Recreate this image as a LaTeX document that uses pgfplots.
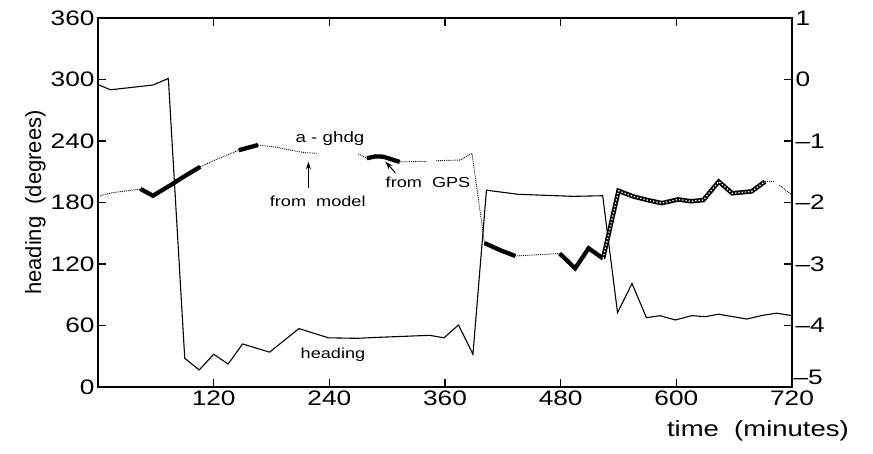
\documentclass[border=0pt]{standalone}
\usepackage{pgfplots}
\pgfplotsset{compat=1.18}
\usepackage{fontspec}
\setmainfont{Liberation Sans}[FakeStretch=1.25]
\newfontfamily\rotfont{Liberation Sans}
\usetikzlibrary{arrows.meta}
\begin{document}
\begin{tikzpicture}
\useasboundingbox (-98pt,-66pt) rectangle (775pt,387pt);
\pgfplotsset{
  every axis/.append style={
    scale only axis, width=694pt, height=369pt,
    xmin=0, xmax=720,
    tick align=inside,
    axis line style={line width=1.1pt},
    major tick length=8pt,
    every tick/.style={line width=1.1pt, black},
    tick label style={font=\fontsize{21}{24}\selectfont},
    label style={font=\fontsize{22}{26}\selectfont},
    /pgf/number format/assume math mode=true,
  }
}
\begin{axis}[
  ymin=0, ymax=360,
  xtick={120,240,...,720}, ytick={0,60,...,360},
  xtick pos=both, xticklabel pos=lower,
  ytick pos=left,
  ylabel={\rotfont heading\ \ (degrees)},
  ylabel style={yshift=-2pt},
  xlabel={time\ \ (minutes)},
  xlabel style={at={(axis description cs:1.087,-0.12)}, anchor=east},
]
\addplot[black, line width=1.1pt] coordinates {
(0,295) (13,290) (57,294.6) (73,301) (90,28) (105,16.6) (120,32) (135,22.4)
(150,42) (178,34) (208.5,57) (239,48) (268,47.5) (292,48.5) (344,50.4)
(359,48) (374,60.5) (389,32) (403,192) (436,188) (493,186) (523.6,186.6)
(539,72.5) (554,101) (569,67.6) (583,69.6) (599,65.4) (616,69.6) (630,68.6)
(643.6,71) (659,68.6) (673,66.3) (690,70) (704,72) (720,69.6)
};
\node[font=\fontsize{15}{17}\selectfont] at (axis cs:240.7,242) {a - ghdg};
\node[font=\fontsize{14.5}{17}\selectfont] at (axis cs:228,181.5) {from\ \ model};
\node[font=\fontsize{14.5}{17}\selectfont] at (axis cs:342.4,200) {from\ \ GPS};
\node[font=\fontsize{14.5}{17}\selectfont] at (axis cs:243.8,31.5) {heading};
\draw[-{Stealth[length=8pt,width=5pt]}, line width=1pt] (axis cs:218.3,194) -- (axis cs:218.3,220);
\draw[-{Stealth[length=8pt,width=5pt]}, line width=1pt] (axis cs:308.5,209) -- (axis cs:298,220);
\end{axis}
\begin{axis}[
  ymin=-5, ymax=1,
  axis x line=none, axis y line*=right,
  ytick={-4,-3,...,1}, yticklabels={--4,--3,--2,--1,0,1},
  extra y ticks={-5}, extra y tick labels={--5},
  extra y tick style={yticklabel style={yshift=10pt, xshift=-2pt}},
  ytick pos=right,
]
\tikzset{dotl/.style={black, line width=0.9pt, densely dotted}, thk/.style={black, line width=4.3pt}}
\addplot[dotl] coordinates {(0,-1.90) (15,-1.84) (30,-1.81) (44,-1.78)};
\addplot[thk] coordinates {(44,-1.78) (57,-1.89) (75,-1.72) (90,-1.57) (106,-1.42)};
\addplot[dotl] coordinates {(106,-1.42) (120,-1.32) (135,-1.22) (146,-1.15)};
\addplot[thk] coordinates {(146,-1.15) (166,-1.065)};
\addplot[dotl] coordinates {(166,-1.065) (185,-1.10) (200,-1.15) (215,-1.19) (228,-1.20)};
\addplot[dotl] coordinates {(270,-1.21) (279,-1.28)};
\addplot[thk] coordinates {(279,-1.28) (288,-1.25) (296,-1.255) (305,-1.30) (313,-1.34)};
\addplot[dotl] coordinates {(313,-1.34) (341,-1.33)};
\addplot[dotl] coordinates {(351,-1.32) (376,-1.31) (388,-1.20) (401,-2.66)};
\addplot[thk] coordinates {(401,-2.66) (418,-2.78) (433,-2.87)};
\addplot[dotl] coordinates {(433,-2.87) (479,-2.83)};
\addplot[thk] coordinates {(479,-2.83) (495,-3.07) (509,-2.745) (524,-2.91)};
\addplot[black, line width=4.5pt] coordinates {(524,-2.91) (540,-1.81) (555,-1.90) (570,-1.96) (585,-2.01) (602,-1.95) (615,-1.98) (628,-1.96) (644,-1.66) (658,-1.85) (678,-1.82) (692,-1.66)};
\addplot[white, line width=1.3pt, dotted] coordinates {(524,-2.91) (540,-1.81) (555,-1.90) (570,-1.96) (585,-2.01) (602,-1.95) (615,-1.98) (628,-1.96) (644,-1.66) (658,-1.85) (678,-1.82) (692,-1.66)};
\addplot[dotl] coordinates {(692,-1.66) (701,-1.66)};
\addplot[dotl] coordinates {(707,-1.72) (720,-1.88)};
\node[rotate=90, font=\rotfont\fontsize{22}{26}\selectfont] at (rel axis cs:1.095,0.70) {a - ghdg\ \ \ (degrees)};
\end{axis}
\end{tikzpicture}
\end{document}
